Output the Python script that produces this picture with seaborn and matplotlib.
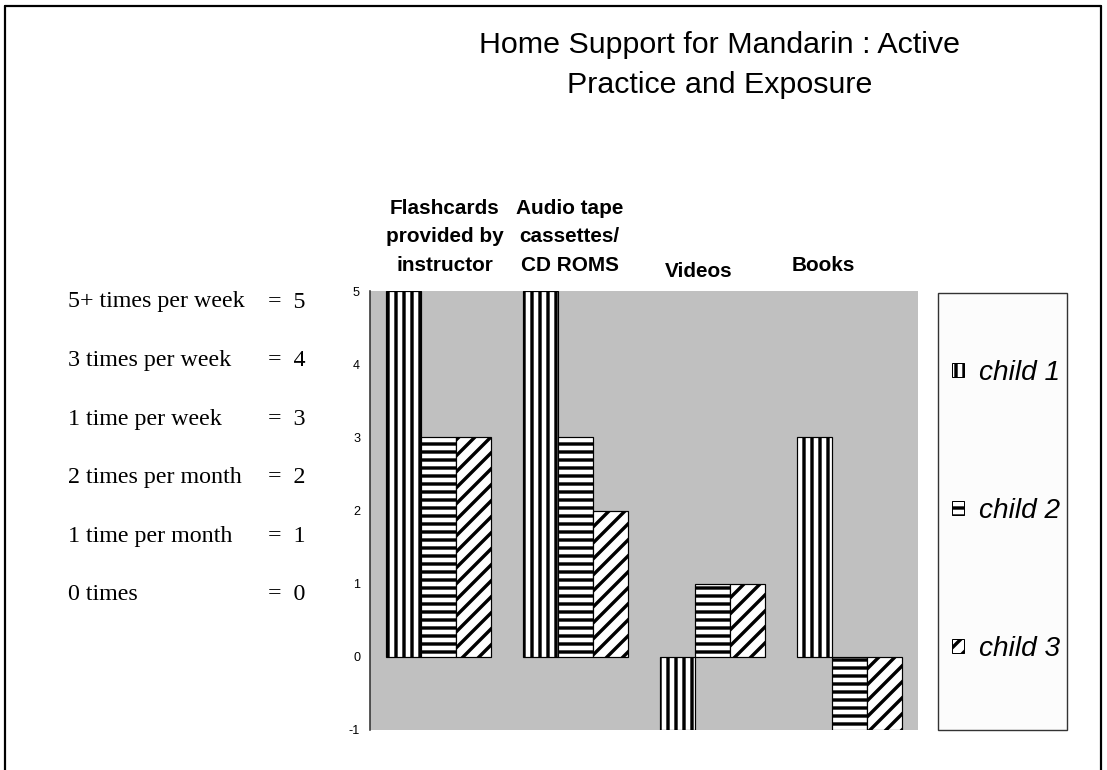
import numpy as np
import pandas as pd
import seaborn as sns
import matplotlib
matplotlib.use("Agg")
import matplotlib.pyplot as plt
import matplotlib.patches as mpatches
from matplotlib.lines import Line2D

# ---- data ----
categories = ["Flashcards\nprovided by\ninstructor", "Audio tape\ncassettes/\nCD ROMS", "Videos", "Books"]
series = ["child 1", "child 2", "child 3"]
child1 = [5, 5, -1, 3]
child2 = [3, 3, 1, -1]
child3 = [3, 2, 1, -1]
y_ticks = [-1, 0, 1, 2, 3, 4, 5]
freq_labels = ["5+ times per week", "3 times per week", "1 time per week",
               "2 times per month", "1 time per month", "0 times"]
freq_codes = [5, 4, 3, 2, 1, 0]
title = "Home Support for Mandarin : Active\nPractice and Exposure"

df = pd.DataFrame({
    "category": np.repeat(categories, len(series)),
    "child": series * len(categories),
    "value": [v for trio in zip(child1, child2, child3) for v in trio],
})

# ---- figure ----
W, H, DPI = 1107, 770, 144
sns.set_style("white")
plt.rcParams["font.family"] = ["Liberation Sans", "DejaVu Sans"]
plt.rcParams["text.color"] = "black"
plt.rcParams["ytick.labelcolor"] = "black"
plt.rcParams["hatch.linewidth"] = 1.7
plt.rcParams["hatch.color"] = "black"

fig = plt.figure(figsize=(W / DPI, H / DPI), dpi=DPI)
fig.patch.set_facecolor("white")


def fx(px):
    return px / W


def fy(py):
    return 1 - py / H


ax = fig.add_axes([fx(370), fy(730), fx(918) - fx(370), fy(291) - fy(730)])
ax.set_facecolor("#c0c0c0")

sns.barplot(data=df, x="category", y="value", hue="child", order=categories,
            hue_order=series, palette=["white"] * 3, saturation=1,
            edgecolor="black", linewidth=0.6, width=0.77, errorbar=None,
            legend=False, ax=ax)

hatches = ["|||", "---", "///"]
for cont, h in zip(ax.containers, hatches):
    for bar in cont:
        bar.set_hatch(h)

ax.set_ylim(-1, 5)
ax.set_xlim(-0.5, len(categories) - 0.5)
ax.set_yticks(y_ticks)
ax.set_yticklabels([str(t) for t in y_ticks], fontsize=6.3, color="black")
ax.tick_params(axis="y", direction="out", length=3, width=0.6, color="#333333", pad=2)
ax.set_xticks([])
ax.set_xlabel("")
ax.set_ylabel("")
for side in ["top", "right", "bottom"]:
    ax.spines[side].set_visible(False)
ax.spines["left"].set_color("#333333")
ax.spines["left"].set_linewidth(0.8)

# category headings above the plotting area
label_shift = [(3, 8), (-3, 8), (-7, 5), (-13, 8)]
for i, (cat, (dx, dy)) in enumerate(zip(categories, label_shift)):
    ax.annotate(cat, xy=(i, 1), xycoords=("data", "axes fraction"),
                xytext=(dx, dy), textcoords="offset points",
                ha="center", va="bottom", fontsize=10.4, fontweight="bold",
                linespacing=1.65, color="black")

# title
fig.text(fx(719.5), fy(65), title, ha="center", va="center", fontsize=15.2,
         linespacing=1.52, color="black")

# frequency key on the left
for i, (lab, code) in enumerate(zip(freq_labels, freq_codes)):
    yb = fy(307.5 + 58.6 * i)
    fig.text(fx(68), yb, lab, ha="left", va="baseline", fontsize=12,
             family="Liberation Serif", color="black")
    fig.text(fx(305), yb, f"=  {code}", ha="right", va="baseline", fontsize=12,
             family="Liberation Serif", color="black")

# legend box and entries
box = mpatches.Rectangle((fx(938), fy(730)), fx(1067) - fx(938), fy(293) - fy(730),
                         transform=fig.transFigure, facecolor="#fcfcfc",
                         edgecolor="#333333", linewidth=0.7, zorder=1)
fig.add_artist(box)
handles = [mpatches.Patch(facecolor="white", edgecolor="black", linewidth=0.5,
                          hatch=h, label=s) for h, s in zip(hatches, series)]
leg = fig.legend(handles=handles, loc="center", bbox_to_anchor=(fx(1006), fy(511)),
                 frameon=False, fontsize=14, labelspacing=4.0, handlelength=0.42,
                 handleheight=0.42, handletextpad=0.55)
for t in leg.get_texts():
    t.set_fontstyle("italic")
    t.set_color("black")
leg.set_zorder(2)

# outer frame
frame_kw = dict(color="black", linewidth=1.1, transform=fig.transFigure)
fig.add_artist(Line2D([fx(5), fx(5)], [0, fy(6)], **frame_kw))
fig.add_artist(Line2D([fx(5), fx(1101)], [fy(6), fy(6)], **frame_kw))
fig.add_artist(Line2D([fx(1101), fx(1101)], [fy(6), 0], **frame_kw))

fig.savefig("out.png", dpi=DPI, facecolor="white")
